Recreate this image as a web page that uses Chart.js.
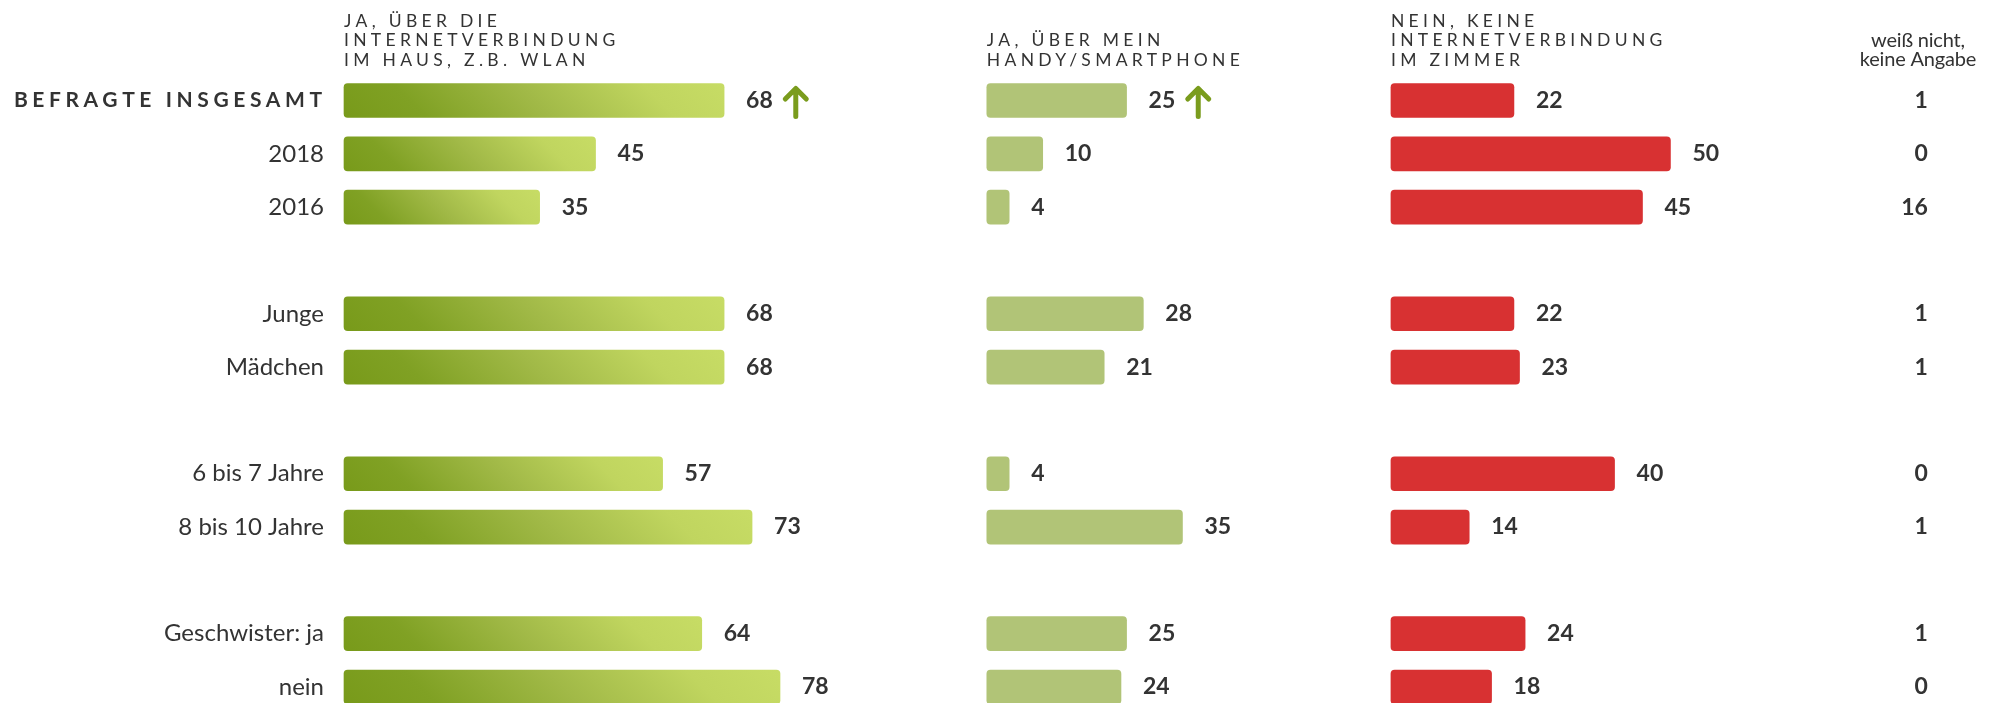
<!DOCTYPE html>
<html lang="de">
<head>
<meta charset="utf-8">
<title>Internetverbindung im Zimmer</title>
<script src="https://cdn.jsdelivr.net/npm/chart.js@4/dist/chart.umd.min.js"></script>
<style>
  html, body { margin: 0; padding: 0; background: #fff; }
  #wrap { position: relative; width: 1998px; height: 703px; }
</style>
</head>
<body>
<div id="wrap"><canvas id="chart"></canvas></div>
<script>
// Zeilen – leere Einträge sind die Abstände zwischen den Gruppen
const categories = ['BEFRAGTE INSGESAMT', '2018', '2016', '', 'Junge', 'Mädchen', '', '6 bis 7 Jahre', '8 bis 10 Jahre', '', 'Geschwister: ja', 'nein'];

// Werte in Prozent
const wlanValues       = [68, 45, 35, null, 68, 68, null, 57, 73, null, 64, 78];
const handyValues      = [25, 10,  4, null, 28, 21, null,  4, 35, null, 25, 24];
const keineValues      = [22, 50, 45, null, 22, 23, null, 40, 14, null, 24, 18];
const weissNichtValues = [ 1,  0, 16, null,  1,  1, null,  0,  1, null,  1,  0];

const columnHeaders = [
  ['JA, ÜBER DIE', 'INTERNETVERBINDUNG', 'IM HAUS, Z.B. WLAN'],
  ['JA, ÜBER MEIN', 'HANDY/SMARTPHONE'],
  ['NEIN, KEINE', 'INTERNETVERBINDUNG', 'IM ZIMMER'],
  ['weiß nicht,', 'keine Angabe']
];

// Pfeil nach oben beim Gesamtwert (Anstieg)
const trendUp = [true, true, false];

const TEXT = '#333333';
const FONT = 'Lato, "Open Sans", sans-serif';
const BAR_H = 34;

// Verlauf pro Balken (dunkel unten links -> hell oben rechts)
function wlanGradient(context) {
  const chart = context.chart;
  const xs = chart.scales.x1;
  const ys = chart.scales.y;
  if (!chart.chartArea || !xs || !ys || context.raw == null) return '#9fb845';
  const left = xs.getPixelForValue(0);
  const right = xs.getPixelForValue(context.raw);
  const cy = ys.getPixelForValue(context.dataIndex);
  const cx = (left + right) / 2;
  const d = (right - left + BAR_H) / 4;
  const g = chart.ctx.createLinearGradient(cx - d, cy + d, cx + d, cy - d);
  g.addColorStop(0, '#789a1a');
  g.addColorStop(0.2, '#80a124');
  g.addColorStop(0.5, '#a1b947');
  g.addColorStop(0.8, '#c0d55f');
  g.addColorStop(1, '#c7dc65');
  return g;
}

function drawArrow(ctx, x, y) {
  ctx.save();
  ctx.strokeStyle = '#7a9c1d';
  ctx.lineWidth = 5;
  ctx.lineCap = 'round';
  ctx.lineJoin = 'round';
  ctx.beginPath();
  ctx.moveTo(x, y + 16);
  ctx.lineTo(x, y - 11);
  ctx.moveTo(x - 10.5, y - 1.5);
  ctx.lineTo(x, y - 12);
  ctx.lineTo(x + 10.5, y - 1.5);
  ctx.stroke();
  ctx.restore();
}

const labelPlugin = {
  id: 'labelPlugin',
  afterDatasetsDraw(chart) {
    const ctx = chart.ctx;
    const ys = chart.scales.y;
    const x4 = chart.scales.x4;

    // Werte hinter den Balken
    ctx.save();
    ctx.font = `bold 23px ${FONT}`;
    ctx.fillStyle = TEXT;
    ctx.textBaseline = 'middle';
    ctx.textAlign = 'left';
    chart.data.datasets.forEach((ds, di) => {
      const meta = chart.getDatasetMeta(di);
      meta.data.forEach((bar, i) => {
        const v = ds.data[i];
        if (v == null) return;
        const tx = bar.x + 22;
        ctx.fillText(String(v), tx, bar.y);
        if (i === 0 && trendUp[di]) {
          drawArrow(ctx, tx + ctx.measureText(String(v)).width + 23, bar.y);
        }
      });
    });

    // Spalte "weiß nicht, keine Angabe"
    const cx4 = (x4.left + x4.right) / 2;
    ctx.textAlign = 'right';
    weissNichtValues.forEach((v, i) => {
      if (v == null) return;
      ctx.fillText(String(v), cx4 + 4, ys.getPixelForValue(i));
    });
    ctx.restore();

    // erste Zeile: fett, gesperrt
    ctx.save();
    ctx.font = `bold 21px ${FONT}`;
    ctx.letterSpacing = '4.6px';
    ctx.fillStyle = TEXT;
    ctx.textAlign = 'right';
    ctx.textBaseline = 'middle';
    ctx.fillText(categories[0], ys.right - 22 + 4.6, ys.getPixelForValue(0));
    ctx.restore();

    // Spaltenköpfe
    const lineY = [21, 40.5, 60];
    const scaleIds = ['x1', 'x2', 'x3'];
    ctx.save();
    ctx.font = `17.5px ${FONT}`;
    ctx.letterSpacing = '4.3px';
    ctx.fillStyle = '#333333';
    ctx.textAlign = 'left';
    ctx.textBaseline = 'middle';
    scaleIds.forEach((id, c) => {
      const lines = columnHeaders[c];
      const off = lineY.length - lines.length;
      lines.forEach((line, k) => {
        ctx.fillText(line, chart.scales[id].left, lineY[off + k]);
      });
    });
    ctx.restore();

    ctx.save();
    ctx.font = `20px ${FONT}`;
    ctx.letterSpacing = '-0.2px';
    ctx.fillStyle = TEXT;
    ctx.textAlign = 'center';
    ctx.textBaseline = 'middle';
    columnHeaders[3].forEach((line, k) => {
      ctx.fillText(line, cx4 - 6, lineY[1 + k]);
    });
    ctx.restore();
  }
};

function xAxis(max) {
  return {
    type: 'linear',
    position: 'bottom',
    stack: 'spalten',
    stackWeight: max,
    min: 0,
    max: max,
    display: false
  };
}

const barBase = {
  barThickness: BAR_H,
  borderRadius: 4,
  borderSkipped: false,
  grouped: false,
  clip: false
};

new Chart(document.getElementById('chart'), {
  type: 'bar',
  data: {
    labels: categories,
    datasets: [
      Object.assign({ label: 'Ja, über die Internetverbindung im Haus', data: wlanValues, xAxisID: 'x1', backgroundColor: wlanGradient }, barBase),
      Object.assign({ label: 'Ja, über mein Handy/Smartphone', data: handyValues, xAxisID: 'x2', backgroundColor: '#b1c477' }, barBase),
      Object.assign({ label: 'Nein, keine Internetverbindung im Zimmer', data: keineValues, xAxisID: 'x3', backgroundColor: '#d83132' }, barBase)
    ]
  },
  options: {
    indexAxis: 'y',
    responsive: true,
    maintainAspectRatio: false,
    animation: false,
    events: [],
    layout: { padding: { top: 100.5, bottom: 16, left: 0, right: 0 } },
    plugins: {
      legend: { display: false },
      tooltip: { enabled: false }
    },
    scales: {
      y: {
        type: 'category',
        offset: false,
        grid: { display: false, drawTicks: false },
        border: { display: false },
        afterFit(scale) {
          scale.width = 344;
          scale.paddingTop = 0;
          scale.paddingBottom = 0;
        },
        ticks: {
          padding: 20,
          autoSkip: false,
          color: TEXT,
          font: { family: FONT, size: 24 },
          callback: (v, i) => (i === 0 ? '' : categories[i])
        }
      },
      x1: xAxis(115),
      x2: xAxis(72.3),
      x3: xAxis(82.1),
      x4: xAxis(26.5)
    }
  },
  plugins: [labelPlugin]
});
</script>
</body>
</html>
